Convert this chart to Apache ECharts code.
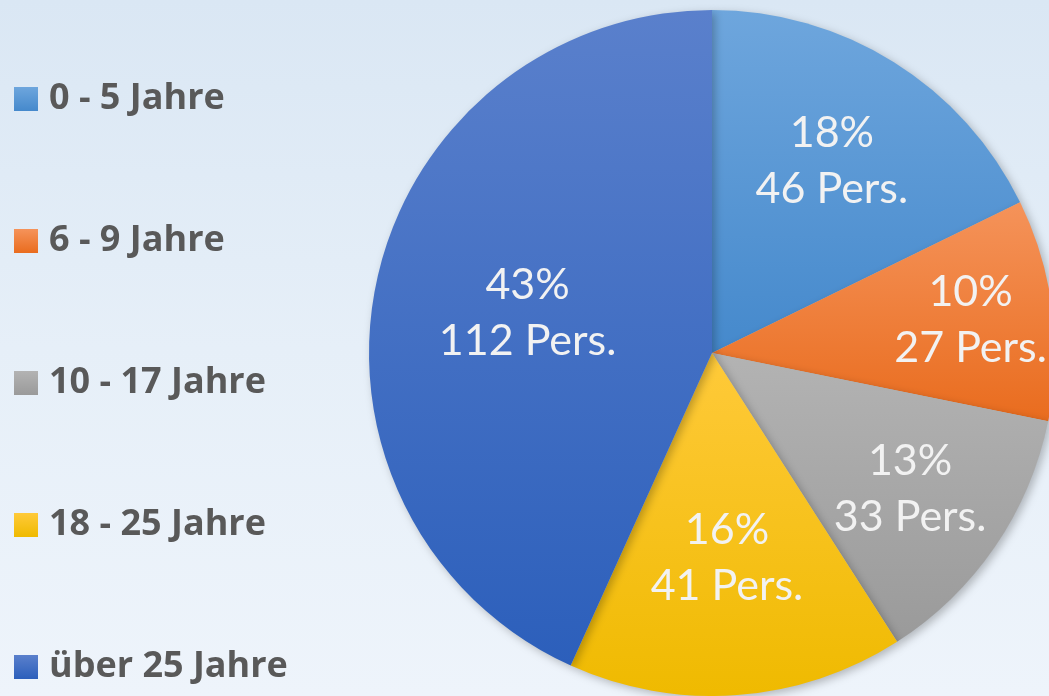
<!DOCTYPE html>
<html>
<head>
<meta charset="utf-8">
<script src="https://cdn.jsdelivr.net/npm/echarts@6/dist/echarts.min.js"></script>
<style>
  html, body { margin: 0; padding: 0; }
  #chart {
    width: 1049px;
    height: 696px;
    background: linear-gradient(180deg, #dae7f4 0%, #e6eff8 50%, #eef4fb 100%);
  }
</style>
</head>
<body>
<div id="chart"></div>
<script>
// Altersgruppen und Personenzahl
var categories = ["0 - 5 Jahre", "6 - 9 Jahre", "10 - 17 Jahre", "18 - 25 Jahre", "über 25 Jahre"];
var persons = [46, 27, 33, 41, 112];
// Farbverlauf je Segment: oben hell, unten dunkel
var colorsTop = ["#6ea6dd", "#f5935a", "#b3b3b3", "#ffca3a", "#5a80cc"];
var colorsBottom = ["#4589cc", "#e96c1e", "#9a9a9a", "#efba00", "#2c5fbb"];
// Abstand der Beschriftung vom Mittelpunkt (Anteil am Radius), wie im Original
var labelFrac = [0.66, 0.76, 0.70, 0.60, 0.55];

var cx = 712, cy = 353, R = 343;
var myChart = echarts.init(document.getElementById("chart"));

var pieData = categories.map(function(name, i) {
  return {
    name: name,
    value: persons[i],
    itemStyle: {
      color: new echarts.graphic.LinearGradient(0, 0, 0, 1, [
        { offset: 0, color: colorsTop[i] },
        { offset: 1, color: colorsBottom[i] }
      ])
    }
  };
});

var option = {
  animation: false,
  legend: {
    orient: "vertical",
    left: 14,
    top: 81,
    height: 660,
    padding: 0,
    icon: "rect",
    itemWidth: 24,
    itemHeight: 24,
    itemGap: 106,
    data: categories,
    textStyle: {
      color: "#595959",
      fontFamily: "Open Sans",
      fontWeight: "bold",
      fontSize: 36,
      padding: [0, 0, 0, 6]
    }
  },
  series: [
    {
      type: "pie",
      center: [cx, cy],
      radius: [0, R],
      startAngle: 90,
      clockwise: true,
      percentPrecision: 0,
      silent: true,
      itemStyle: {
        shadowBlur: 8,
        shadowOffsetX: 3,
        shadowOffsetY: 3,
        shadowColor: "rgba(0, 0, 0, 0.25)"
      },
      label: {
        show: true,
        position: "inside",
        formatter: "{d}%\n{c} Pers.",
        color: "#f2f2f2",
        fontFamily: "Lato",
        fontSize: 43,
        lineHeight: 56
      },
      labelLine: { show: false },
      labelLayout: function(params) {
        var r = params.labelRect;
        var mx = r.x + r.width / 2 - cx;
        var my = r.y + r.height / 2 - cy;
        var d = Math.sqrt(mx * mx + my * my) || 1;
        var k = labelFrac[params.dataIndex] * R / d;
        return { x: cx + mx * k, y: cy + my * k };
      },
      data: pieData
    }
  ]
};
myChart.setOption(option);
</script>
</body>
</html>
